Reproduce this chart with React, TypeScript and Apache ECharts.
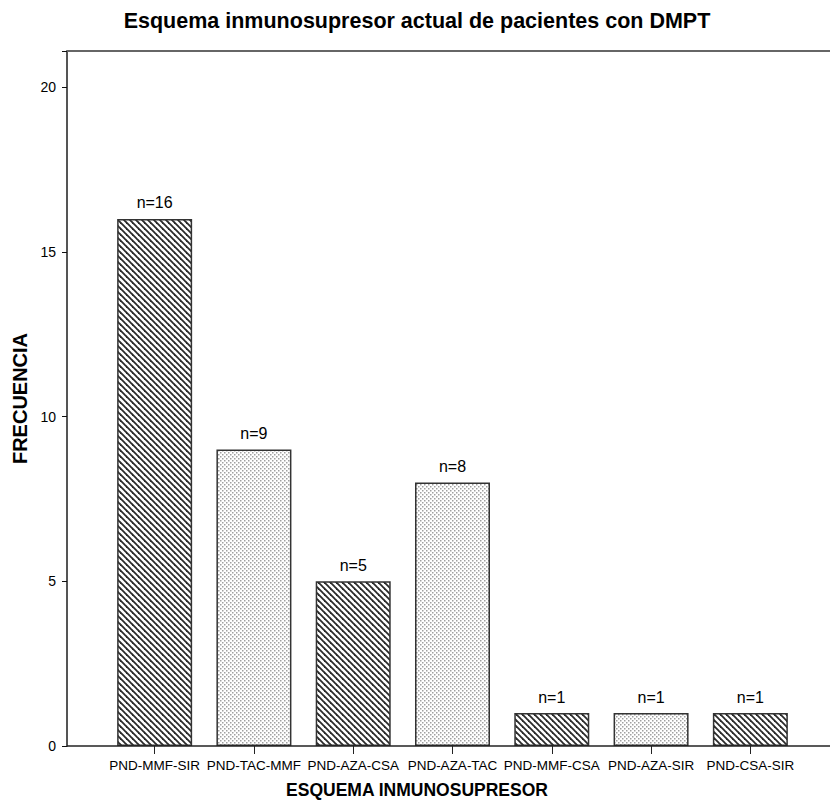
import React, { useEffect, useRef } from "react";
import * as echarts from "echarts";

const categories = ["PND-MMF-SIR", "PND-TAC-MMF", "PND-AZA-CSA", "PND-AZA-TAC", "PND-MMF-CSA", "PND-AZA-SIR", "PND-CSA-SIR"];
const values = [16, 9, 5, 8, 1, 1, 1];
const patternKinds = ["hatch", "dots", "hatch", "dots", "hatch", "dots", "hatch"];
const yTicks = [0, 5, 10, 15, 20];

const FONT = "'Liberation Sans', Arial, sans-serif";

function makeHatch(): HTMLCanvasElement {
  const c = document.createElement("canvas");
  const s = 6;
  c.width = s;
  c.height = s;
  const ctx = c.getContext("2d")!;
  ctx.fillStyle = "#ffffff";
  ctx.fillRect(0, 0, s, s);
  ctx.strokeStyle = "#2a2a2a";
  ctx.lineWidth = 1.8;
  ctx.lineCap = "square";
  for (const o of [-s, 0, s]) {
    ctx.beginPath();
    ctx.moveTo(o, 0);
    ctx.lineTo(o + s, s);
    ctx.stroke();
  }
  return c;
}

function makeDots(): HTMLCanvasElement {
  const c = document.createElement("canvas");
  const s = 4;
  c.width = s;
  c.height = s;
  const ctx = c.getContext("2d")!;
  ctx.fillStyle = "#ffffff";
  ctx.fillRect(0, 0, s, s);
  ctx.fillStyle = "#a0a0a0";
  ctx.fillRect(0, 0, 1.5, 1.5);
  ctx.fillRect(2, 2, 1.5, 1.5);
  return c;
}

export default function App() {
  const ref = useRef<HTMLDivElement>(null);
  useEffect(() => {
    if (!ref.current) return;
    const chart = echarts.init(ref.current, undefined, { renderer: "svg" });
    const hatch = makeHatch();
    const dots = makeDots();
    const data = values.map((v, i) => ({
      value: v,
      itemStyle: {
        color: {
          image: patternKinds[i] === "hatch" ? hatch : dots,
          repeat: "repeat",
        } as any,
      },
    }));
    const yMax = 21.1;
    chart.setOption({
      animation: false,
      backgroundColor: "#ffffff",
      textStyle: { fontFamily: FONT },
      grid: { left: 105, right: 30, top: 51, bottom: 56, containLabel: false },
      xAxis: {
        type: "category",
        data: categories,
        boundaryGap: true,
        axisLine: { show: false },
        axisTick: { show: true, alignWithLabel: true, length: 8, lineStyle: { color: "#222", width: 1 } },
        axisLabel: { interval: 0, fontSize: 13.5, color: "#000", margin: 12, fontFamily: FONT },
        splitLine: { show: false },
      },
      yAxis: {
        type: "value",
        min: 0,
        max: yMax,
        interval: 5,
        offset: 38,
        axisLine: { show: true, lineStyle: { color: "#555", width: 2 } },
        axisTick: { show: true, length: 5, lineStyle: { color: "#111", width: 1 } },
        axisLabel: {
          fontSize: 14,
          color: "#000",
          margin: 11,
          fontFamily: FONT,
          formatter: (v: number) => (yTicks.includes(v) ? String(v) : ""),
        },
        splitLine: { show: false },
        name: "FRECUENCIA",
        nameLocation: "middle",
        nameGap: 34,
        nameTextStyle: { fontSize: 20, fontWeight: "bold", color: "#000", fontFamily: FONT },
      },
      series: [
        {
          type: "bar",
          data,
          barWidth: 75,
          itemStyle: { borderColor: "#333", borderWidth: 1.5 },
          label: {
            show: true,
            position: "top",
            distance: 8,
            fontSize: 16,
            color: "#000",
            fontFamily: FONT,
            formatter: (p: any) => "n=" + p.value,
          },
        },
      ],
      graphic: [
        {
          type: "line",
          shape: { x1: 67, y1: 51, x2: 830, y2: 51 },
          style: { stroke: "#666", lineWidth: 2 },
          z: 10,
        },
        {
          type: "line",
          shape: { x1: 67, y1: 746, x2: 830, y2: 746 },
          style: { stroke: "#222", lineWidth: 1.5 },
          z: 10,
        },
        {
          type: "text",
          x: 417,
          y: 21,
          style: {
            text: "Esquema inmunosupresor actual de pacientes con DMPT",
            fontSize: 21.5,
            fontWeight: "bold",
            fill: "#000",
            fontFamily: FONT,
            align: "center",
            verticalAlign: "middle",
          },
        },
        {
          type: "text",
          x: 417,
          y: 790,
          style: {
            text: "ESQUEMA INMUNOSUPRESOR",
            fontSize: 17.5,
            fontWeight: "bold",
            fill: "#000",
            fontFamily: FONT,
            align: "center",
            verticalAlign: "middle",
          },
        },
      ],
    });
    return () => chart.dispose();
  }, []);
  return <div ref={ref} style={{ width: 830, height: 802, position: "absolute", left: 0, top: 0 }} />;
}
